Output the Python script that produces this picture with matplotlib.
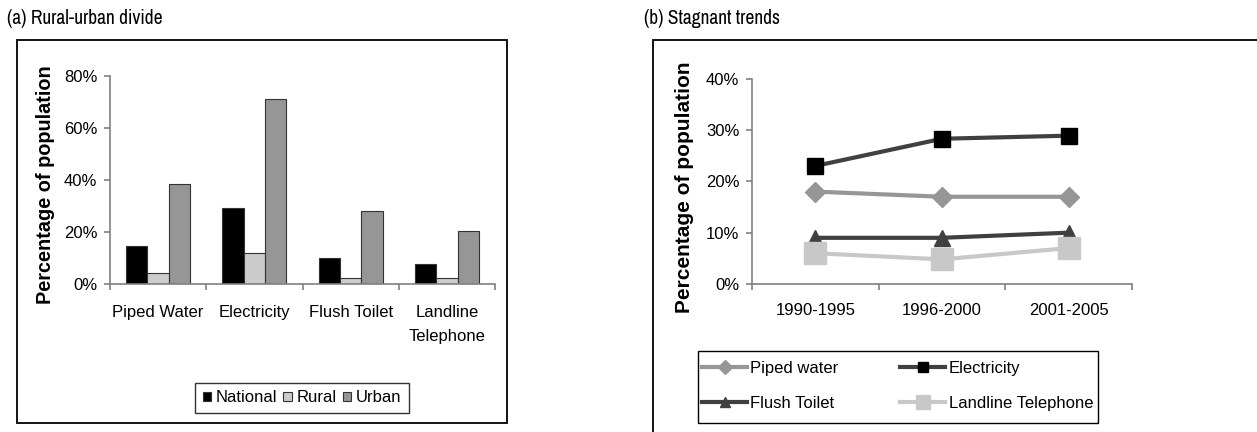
import matplotlib
matplotlib.use("Agg")
import matplotlib.pyplot as plt
from matplotlib.patches import Rectangle
from matplotlib.ticker import PercentFormatter, FixedLocator, NullFormatter

plt.rcParams['font.family'] = ['Liberation Sans', 'DejaVu Sans']
narrow = ['Archivo Narrow', 'Liberation Sans']

# panel (a): rural-urban divide
services = ["Piped Water", "Electricity", "Flush Toilet", "Landline\nTelephone"]
national = [14.6, 29.2, 9.9, 7.8]
rural = [4.1, 11.8, 2.2, 2.2]
urban = [38.3, 71.0, 28.0, 20.2]

# panel (b): stagnant trends
periods = ["1990-1995", "1996-2000", "2001-2005"]
piped_water = [18.0, 17.0, 17.0]
electricity = [23.0, 28.3, 28.9]
flush_toilet = [9.0, 9.0, 10.0]
landline = [6.0, 4.8, 7.0]

W, H = 1257, 432
fig = plt.figure(figsize=(W / 100, H / 100), dpi=100)

def px(x0, y0, x1, y1):
    # pixel box (top-left origin) -> figure fraction rect
    return [x0 / W, 1 - y1 / H, (x1 - x0) / W, (y1 - y0) / H]

def style_axes(ax):
    for s in ["top", "right"]:
        ax.spines[s].set_visible(False)
    for s in ["left", "bottom"]:
        ax.spines[s].set_color("#808080")
        ax.spines[s].set_linewidth(1.2)
    ax.tick_params(axis="both", colors="#808080", labelcolor="black", labelsize=12,
                   length=4, width=1.2, direction="out", pad=5)
    ax.yaxis.set_major_formatter(PercentFormatter(decimals=0))

# frames around each chart
fig.patches.append(Rectangle((17 / W, 1 - 423 / H), 490 / W, 383 / H, transform=fig.transFigure,
                             fill=False, edgecolor="black", linewidth=1.3))
fig.patches.append(Rectangle((653 / W, 1 - 440 / H), 640 / W, 400 / H, transform=fig.transFigure,
                             fill=False, edgecolor="black", linewidth=1.3, clip_on=False))

fig.text(7 / W, 1 - 18 / H, "(a) Rural-urban divide", family=narrow, fontsize=14, va="center")
fig.text(644 / W, 1 - 18 / H, "(b) Stagnant trends", family=narrow, fontsize=14, va="center")

# --- left: grouped bars
ax1 = fig.add_axes(px(110, 76, 495, 284))
style_axes(ax1)
n = len(services)
bw = 0.222
xs = list(range(n))
b1 = ax1.bar([x - bw for x in xs], national, bw, color="black", edgecolor="#333333", linewidth=0.8, label="National")
b2 = ax1.bar(xs, rural, bw, color="#cccccc", edgecolor="#333333", linewidth=0.8, label="Rural")
b3 = ax1.bar([x + bw for x in xs], urban, bw, color="#969696", edgecolor="#333333", linewidth=0.8, label="Urban")
ax1.set_xlim(-0.5, n - 0.5)
ax1.set_ylim(0, 80)
ax1.set_yticks([0, 20, 40, 60, 80])
ax1.xaxis.set_major_locator(FixedLocator([i - 0.5 for i in range(n + 1)]))
ax1.xaxis.set_major_formatter(NullFormatter())
ax1.xaxis.set_minor_locator(FixedLocator(xs))
ax1.set_xticklabels(services, minor=True, linespacing=1.8)
ax1.tick_params(axis="x", which="minor", length=0, labelsize=12, pad=15)
ax1.set_ylabel("Percentage of population", fontsize=14.3, fontweight="bold")
ax1.yaxis.set_label_coords(-55 / 385, 0.48)

leg1 = fig.legend(handles=[b1, b2, b3], loc="center", bbox_to_anchor=(302 / W, 1 - 398 / H),
                  ncol=3, fontsize=12, frameon=True, fancybox=False, edgecolor="black",
                  handlelength=0.5, handleheight=0.5, handletextpad=0.3, columnspacing=0.35,
                  borderpad=0.45, borderaxespad=0)
leg1.get_frame().set_linewidth(1.0)

# --- right: lines
ax2 = fig.add_axes(px(752, 78.7, 1132, 284))
style_axes(ax2)
xp = [0.5, 1.5, 2.5]
l1, = ax2.plot(xp, piped_water, color="#969696", lw=3, marker="D", ms=10.5, mfc="#969696", mec="#969696", label="Piped water")
l2, = ax2.plot(xp, electricity, color="#404040", lw=3, marker="s", ms=11.5, mfc="black", mec="black", label="Electricity")
l3, = ax2.plot(xp, flush_toilet, color="#404040", lw=3, marker="^", ms=11, mfc="#404040", mec="#404040", label="Flush Toilet")
l4, = ax2.plot(xp, landline, color="#c8c8c8", lw=3, marker="s", ms=16.5, mfc="#c8c8c8", mec="#c8c8c8", label="Landline Telephone")
ax2.set_xlim(0, 3)
ax2.set_ylim(0, 40)
ax2.set_yticks([0, 10, 20, 30, 40])
ax2.xaxis.set_major_locator(FixedLocator([0, 1, 2, 3]))
ax2.xaxis.set_major_formatter(NullFormatter())
ax2.xaxis.set_minor_locator(FixedLocator(xp))
ax2.set_xticklabels(periods, minor=True)
ax2.tick_params(axis="x", which="minor", length=0, labelsize=12, pad=14)
ax2.set_ylabel("Percentage of population", fontsize=15, fontweight="bold")
ax2.yaxis.set_label_coords(-58 / 380, 0.47)

# legend frame drawn separately: the last label runs past its right edge
fig.patches.append(Rectangle((698 / W, 1 - 423 / H), 400 / W, 72 / H, transform=fig.transFigure,
                             fill=False, edgecolor="black", linewidth=1.0))
# row-wise order in a 2-column legend
leg2 = fig.legend(handles=[l1, l3, l2, l4], loc="upper left", bbox_to_anchor=(702 / W, 1 - 361 / H),
                  ncol=2, fontsize=12, frameon=False,
                  handlelength=2.7, handletextpad=0.2, columnspacing=3.7, labelspacing=1.2,
                  borderpad=0, borderaxespad=0, markerscale=0.65)

fig.savefig("out.png", dpi=100)
